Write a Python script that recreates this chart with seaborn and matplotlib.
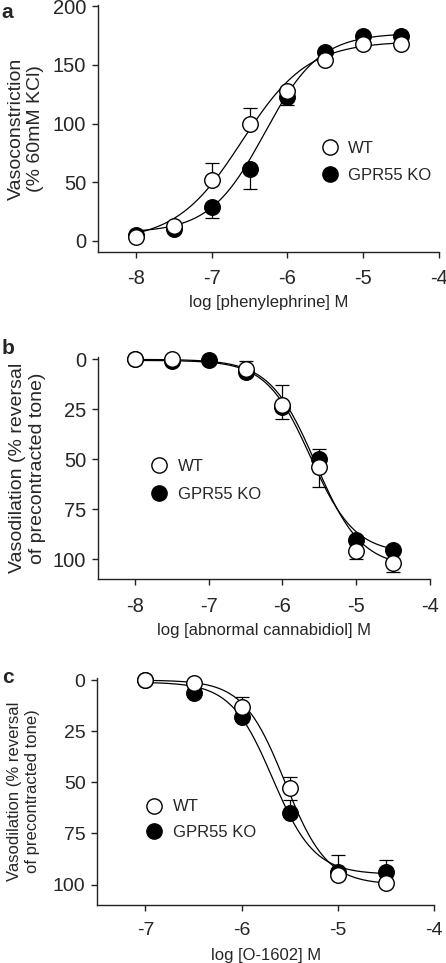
import numpy as np
import pandas as pd
import matplotlib
matplotlib.use("Agg")
import matplotlib.pyplot as plt
from matplotlib.lines import Line2D
import seaborn as sns

# =========================================
# DATA
# =========================================

# a: phenylephrine (vasoconstriction)
a_logc = [-8, -7.5, -7, -6.5, -6, -5.5, -5, -4.5]
a_wt = [3, 13, 52, 100, 128, 154, 168, 168]
a_wt_sem = [0, 0, 14, 13, 0, 0, 0, 0]
a_ko = [5, 10, 29, 61, 123, 161, 175, 175]
a_ko_sem = [0, 0, 9.5, 16.5, 7, 0, 0, 0]
# fitted curves: bottom, top, logEC50, hill
a_wt_fit = [0, 170, -6.6, 1.0]
a_ko_fit = [7, 177, -6.3, 1.2]

# b: abnormal cannabidiol (vasodilation)
b_logc = [-8, -7.5, -7, -6.5, -6, -5.5, -5, -4.5]
b_wt = [0, 0, np.nan, 4.8, 22.8, 54, 96, 102]
b_wt_sem = [0, 0, 0, 0, 7, 10, 4, 4.5]
b_ko = [0, 1, 0.5, 6.5, 23.6, 50, 90.5, 95.5]
b_ko_sem = [0, 0, 0, 5.7, 10.6, 5, 0, 0]
b_wt_fit = [0, 104, -5.55, 1.4]
b_ko_fit = [0.5, 97, -5.62, 1.45]

# c: O-1602 (vasodilation)
c_logc = [-7, -6.5, -6, -5.5, -5, -4.5]
c_wt = [0, 1.3, 13.4, 52.7, 95.1, 99.2]
c_wt_sem = [0, 0, 4.9, 5.1, 9.8, 0]
c_ko = [0, 6.2, 17.9, 64.8, 94, 93.8]
c_ko_sem = [0, 0, 3, 6.1, 0, 5.7]
c_wt_fit = [0, 100, -5.55, 2.0]
c_ko_fit = [1, 95, -5.68, 2.0]

# =========================================
# STYLE
# =========================================

sns.set_style("ticks")
plt.rcParams["font.family"] = ["Liberation Sans", "DejaVu Sans"]
plt.rcParams["axes.unicode_minus"] = False
plt.rcParams["axes.linewidth"] = 1.0
plt.rcParams["axes.edgecolor"] = "#222222"


def logistic(x, p):
    bottom, top, ec50, hill = p
    return bottom + (top - bottom) / (1 + 10 ** ((ec50 - x) * hill))


def draw_panel(ax, logc, wt, wt_sem, wt_dir, ko, ko_sem, ko_dir, wt_fit, ko_fit):
    logc = np.array(logc, dtype=float)
    xs = np.linspace(logc.min(), logc.max(), 200)
    for p in (ko_fit, wt_fit):
        curve = pd.DataFrame({"logc": xs, "resp": logistic(xs, p)})
        sns.lineplot(data=curve, x="logc", y="resp", ax=ax, color="black",
                     linewidth=0.9, zorder=1)

    # one-sided error bars (Prism style)
    for y, sem, d in ((ko, ko_sem, ko_dir), (wt, wt_sem, wt_dir)):
        y = np.array(y, dtype=float)
        sem = np.array(sem, dtype=float)
        lo = sem if d < 0 else np.zeros_like(sem)
        hi = sem if d > 0 else np.zeros_like(sem)
        ax.errorbar(logc, y, yerr=[lo, hi], fmt="none", ecolor="black",
                    elinewidth=0.9, capsize=5, capthick=0.9, zorder=2,
                    clip_on=False)

    sns.scatterplot(x=logc, y=np.array(ko, dtype=float), ax=ax, s=125,
                    color="black", edgecolor="black", linewidth=1,
                    zorder=3, clip_on=False)
    sns.scatterplot(x=logc, y=np.array(wt, dtype=float), ax=ax, s=125,
                    color="white", edgecolor="black", linewidth=1,
                    zorder=4, clip_on=False)


def finish(ax, tick_fs):
    sns.despine(ax=ax)
    ax.tick_params(direction="out", length=4.5, width=1, labelsize=tick_fs,
                   color="#222222")
    ax.tick_params(axis="x", pad=8)
    ax.tick_params(axis="y", pad=4)


def add_legend(ax, anchor, spacing=0.75):
    handles = [
        Line2D([], [], marker="o", linestyle="none", markersize=11,
               markerfacecolor="white", markeredgecolor="black", markeredgewidth=1),
        Line2D([], [], marker="o", linestyle="none", markersize=11,
               markerfacecolor="black", markeredgecolor="black", markeredgewidth=1),
    ]
    ax.legend(handles, ["WT", "GPR55 KO"], loc="center left",
              bbox_to_anchor=anchor, frameon=False, fontsize=12,
              handletextpad=0.6, labelspacing=spacing, borderaxespad=0,
              handlelength=1.0)


fig = plt.figure(figsize=(4.46, 9.63), dpi=100)

# ---------- a ----------
ax_a = fig.add_axes([0.2197, 0.7383, 0.7646, 0.2565])
draw_panel(ax_a, a_logc, a_wt, a_wt_sem, 1, a_ko, a_ko_sem, -1, a_wt_fit, a_ko_fit)
ax_a.set_xlim(-8.5, -4)
ax_a.set_ylim(-9.5, 201)
ax_a.set_xticks([-8, -7, -6, -5, -4])
ax_a.set_yticks([0, 50, 100, 150, 200])
ax_a.set_xlabel("log [phenylephrine] M", fontsize=12, labelpad=5)
ax_a.set_ylabel("Vasoconstriction\n(% 60mM KCl)", fontsize=14, labelpad=6,
                linespacing=1.2)
finish(ax_a, 14.5)
add_legend(ax_a, (0.635, 0.365))

# ---------- b ----------
ax_b = fig.add_axes([0.2197, 0.3984, 0.7444, 0.2305])
draw_panel(ax_b, b_logc, b_wt, b_wt_sem, 1, b_ko, b_ko_sem, -1, b_wt_fit, b_ko_fit)
ax_b.set_xlim(-8.5, -4)
ax_b.set_ylim(110, -1)
ax_b.set_xticks([-8, -7, -6, -5, -4])
ax_b.set_yticks([0, 25, 50, 75, 100])
ax_b.set_xlabel("log [abnormal cannabidiol] M", fontsize=12, labelpad=5)
ax_b.set_ylabel("Vasodilation (% reversal\nof precontracted tone)", fontsize=14,
                labelpad=5, linespacing=1.2)
finish(ax_b, 14.5)
add_legend(ax_b, (0.14, 0.445))

# ---------- c ----------
ax_c = fig.add_axes([0.2182, 0.0602, 0.7556, 0.2357])
draw_panel(ax_c, c_logc, c_wt, c_wt_sem, -1, c_ko, c_ko_sem, -1, c_wt_fit, c_ko_fit)
ax_c.set_xlim(-7.5, -4)
ax_c.set_ylim(110, -1)
ax_c.set_xticks([-7, -6, -5, -4])
ax_c.set_yticks([0, 25, 50, 75, 100])
ax_c.set_xlabel("log [O-1602] M", fontsize=12, labelpad=6)
ax_c.set_ylabel("Vasodilation (% reversal\nof precontracted tone)", fontsize=12,
                labelpad=9, linespacing=1.3)
finish(ax_c, 14)
add_legend(ax_c, (0.125, 0.375), spacing=0.65)

# panel letters
fig.text(0.004, 0.997, "a", fontsize=15, fontweight="bold", va="top")
fig.text(0.004, 0.648, "b", fontsize=15, fontweight="bold", va="top")
fig.text(0.004, 0.306, "c", fontsize=15, fontweight="bold", va="top")

plt.savefig("out.png", dpi=100)
